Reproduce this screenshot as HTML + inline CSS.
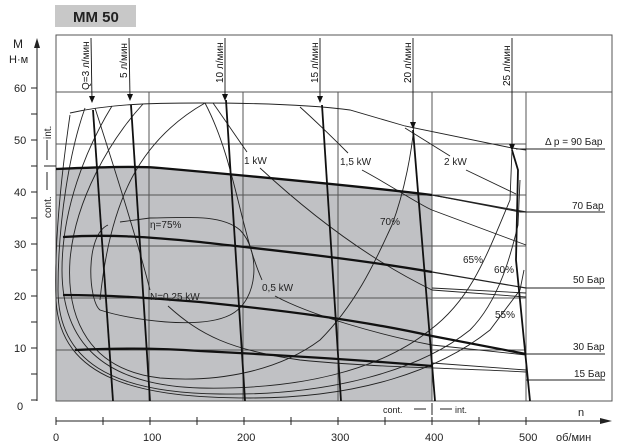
<!DOCTYPE html>
<html><head><meta charset="utf-8"><style>
html,body{margin:0;padding:0;background:#fff;width:640px;height:445px;overflow:hidden}
svg text{font-family:"Liberation Sans","DejaVu Sans",sans-serif}
</style></head><body>
<svg width="640" height="445" viewBox="0 0 640 445" xmlns="http://www.w3.org/2000/svg">
<rect x="55" y="5" width="81" height="22" fill="#c8c8c8"/>
<text x="73" y="22" font-size="15" font-weight="bold" fill="#222">MM 50</text>
<path d="M56,169 C100,167 140,166 160,168 C250,176 350,185 432,195 L432,401 L56,401 Z" fill="#c0c1c4"/>
<rect x="56" y="35" width="556" height="366" fill="none" stroke="#555" stroke-width="1"/>
<line x1="56" y1="92" x2="612" y2="92" stroke="#555"/>
<g stroke="#555" stroke-width="1">
<line x1="56" y1="144" x2="526" y2="144"/><line x1="56" y1="195" x2="526" y2="195"/>
<line x1="56" y1="246" x2="526" y2="246"/><line x1="56" y1="298" x2="526" y2="298"/>
<line x1="56" y1="350" x2="526" y2="350"/>
<line x1="149" y1="92" x2="149" y2="401"/><line x1="243" y1="92" x2="243" y2="401"/>
<line x1="338" y1="92" x2="338" y2="401"/><line x1="432" y1="92" x2="432" y2="401"/>
<line x1="526" y1="92" x2="526" y2="401"/>
</g>
<g fill="none" stroke="#222" stroke-width="0.9">
<path d="M70,113 C110,104 150,103 200,103 C270,103 320,106 350,110 L405,126 L512,148 L526,150"/>
<line x1="516" y1="149" x2="605" y2="149"/>
<path d="M432,195 L520,212"/><line x1="520" y1="212" x2="605" y2="212"/>
<path d="M432,288 L526,293"/><line x1="526" y1="288" x2="605" y2="288"/>
<line x1="526" y1="354" x2="605" y2="354"/>
<path d="M432,363 L526,370"/><line x1="526" y1="380" x2="605" y2="380"/>
<path d="M108,225 C85,235 88,300 100,310 C130,320 200,330 230,315 C260,300 260,250 240,230 C220,213 180,218 150,218 L120,222"/>
<path d="M143,104 C110,140 75,200 70,260 C66,320 90,370 160,378 C220,383 280,370 320,340 C360,300 380,250 392,225 C405,190 412,150 414,125"/>
<path d="M112,106 C85,150 62,210 62,270 C62,340 100,385 200,388 C300,390 380,370 430,330 C470,300 485,260 510,200 L512,150"/>
<path d="M85,108 C70,150 58,220 58,290 C58,360 110,393 220,394 C330,396 420,370 470,330 C500,300 512,250 518,225 L520,180"/>
<path d="M70,115 C62,170 54,240 56,300 C60,380 140,398 250,398 C360,398 440,370 490,330 L520,290 L524,270"/>
<path d="M95,108 C115,170 140,250 150,290"/><path d="M168,306 C200,335 230,350 300,360 C380,368 460,368 526,372"/>
<path d="M205,103 C140,140 110,200 100,300"/>
<path d="M205,103 C235,160 240,230 262,280"/><path d="M275,296 C310,315 380,335 432,345 L526,355"/>
<path d="M213,103 C225,120 235,135 247,152"/><path d="M260,168 C300,205 360,255 432,290 L526,297"/>
<path d="M300,107 C320,125 335,140 348,153"/><path d="M362,170 C390,185 420,205 432,210 L526,245"/>
<path d="M405,128 L450,156"/><path d="M466,170 L516,194"/>
</g>
<g fill="none" stroke="#111" stroke-width="2.3">
<path d="M56,169 C100,167 140,166 160,168 C250,176 350,185 432,195"/>
<path d="M63,237 C110,234 150,237 200,242 C270,250 350,258 432,272"/>
<path d="M63,295 C110,295 150,298 200,302 C280,310 360,320 432,336 L526,354"/>
<path d="M75,350 C120,348 160,348 200,351 C280,355 360,360 432,366"/>
</g>
<g fill="none" stroke="#222" stroke-width="1.2">
<path d="M432,195 L526,212"/><path d="M432,272 L526,288"/>
</g>
<!-- flow lines: thin top, thick bottom -->
<g fill="none" stroke="#111" stroke-width="0.9">
<path d="M91,38 L92,100"/><path d="M129,38 L130,98"/><path d="M225,38 L225,98"/>
<path d="M320,38 L320,100"/><path d="M413,38 L413,124"/><path d="M512,38 L512,146"/>
</g>
<g fill="#111">
<path d="M89,96 L95,96 L92,103 Z"/><path d="M127,94 L133,94 L130,101 Z"/><path d="M222,94 L228,94 L225,101 Z"/>
<path d="M317,96 L323,96 L320,103 Z"/><path d="M410,122 L416,122 L413,129 Z"/><path d="M509,144 L515,144 L512,151 Z"/>
</g>
<g fill="none" stroke="#111" stroke-width="1.8">
<path d="M93,110 L113,401"/><path d="M131,105 L150,401"/>
<path d="M226,100 L245,401"/><path d="M322,105 L341,401"/>
<path d="M413,130 L435,401"/><path d="M512,150 L518,170 L516,260 L530,401"/>
</g>
<g fill="#111" font-size="10">
<text transform="translate(89,90) rotate(-90)">Q=3 л/мин</text>
<text transform="translate(127,78) rotate(-90)">5 л/мин</text>
<text transform="translate(223,83) rotate(-90)">10 л/мин</text>
<text transform="translate(318,83) rotate(-90)">15 л/мин</text>
<text transform="translate(411,83) rotate(-90)">20 л/мин</text>
<text transform="translate(510,86) rotate(-90)">25 л/мин</text>
</g>
<g font-size="10" fill="#222">
<text x="244" y="164">1 kW</text><text x="340" y="165">1,5 kW</text><text x="444" y="165">2 kW</text>
<text x="150" y="228">η=75%</text><text x="150" y="300">N=0,25 kW</text><text x="262" y="291">0,5 kW</text>
<text x="380" y="225">70%</text><text x="463" y="263">65%</text><text x="494" y="273">60%</text><text x="495" y="318">55%</text>
<text x="545" y="145">Δ p = 90 Бар</text><text x="572" y="209">70 Бар</text><text x="573" y="283">50 Бар</text>
<text x="573" y="350">30 Бар</text><text x="574" y="377">15 Бар</text>
</g>
<line x1="37" y1="401" x2="37" y2="45" stroke="#222"/>
<path d="M37,38 L34,48 L40,48 Z" fill="#222"/>
<g stroke="#222"><line x1="31" y1="88" x2="37" y2="88"/><line x1="31" y1="114" x2="37" y2="114"/><line x1="31" y1="140" x2="37" y2="140"/><line x1="31" y1="166" x2="37" y2="166"/><line x1="31" y1="192" x2="37" y2="192"/><line x1="31" y1="218" x2="37" y2="218"/><line x1="31" y1="244" x2="37" y2="244"/><line x1="31" y1="270" x2="37" y2="270"/><line x1="31" y1="296" x2="37" y2="296"/><line x1="31" y1="322" x2="37" y2="322"/><line x1="31" y1="348" x2="37" y2="348"/><line x1="31" y1="374" x2="37" y2="374"/><line x1="31" y1="400" x2="37" y2="400"/>
<line x1="44" y1="166" x2="56" y2="166"/><line x1="47" y1="140" x2="47" y2="160"/><line x1="47" y1="172" x2="47" y2="190"/></g>
<g font-size="11" fill="#222">
<text x="14" y="92">60</text><text x="14" y="144">50</text><text x="14" y="196">40</text><text x="14" y="248">30</text><text x="14" y="300">20</text><text x="14" y="352">10</text><text x="17" y="410">0</text>
<text x="13" y="48" font-size="12">M</text><text x="9" y="63" font-size="11">Н·м</text>
<text transform="translate(51,139) rotate(-90)" font-size="10">int.</text>
<text transform="translate(51,218) rotate(-90)" font-size="10">cont.</text>
</g>
<line x1="56" y1="421" x2="600" y2="421" stroke="#222"/>
<path d="M612,421 L600,418 L600,424 Z" fill="#222"/>
<g stroke="#222"><line x1="56" y1="417" x2="56" y2="425"/><line x1="103" y1="417" x2="103" y2="425"/><line x1="150" y1="417" x2="150" y2="425"/><line x1="197" y1="417" x2="197" y2="425"/><line x1="244" y1="417" x2="244" y2="425"/><line x1="291" y1="417" x2="291" y2="425"/><line x1="338" y1="417" x2="338" y2="425"/><line x1="385" y1="417" x2="385" y2="425"/><line x1="432" y1="417" x2="432" y2="425"/><line x1="479" y1="417" x2="479" y2="425"/><line x1="526" y1="417" x2="526" y2="425"/>
<line x1="432" y1="403" x2="432" y2="415"/><line x1="414" y1="409" x2="426" y2="409"/><line x1="440" y1="409" x2="452" y2="409"/></g>
<g font-size="11" fill="#222">
<text x="53" y="441">0</text><text x="143" y="441">100</text><text x="237" y="441">200</text><text x="331" y="441">300</text><text x="425" y="441">400</text><text x="519" y="441">500</text>
<text x="556" y="441">об/мин</text><text x="578" y="416">n</text>
<text x="383" y="413" font-size="9">cont.</text><text x="455" y="413" font-size="9">int.</text>
</g>
</svg>
</body></html>
